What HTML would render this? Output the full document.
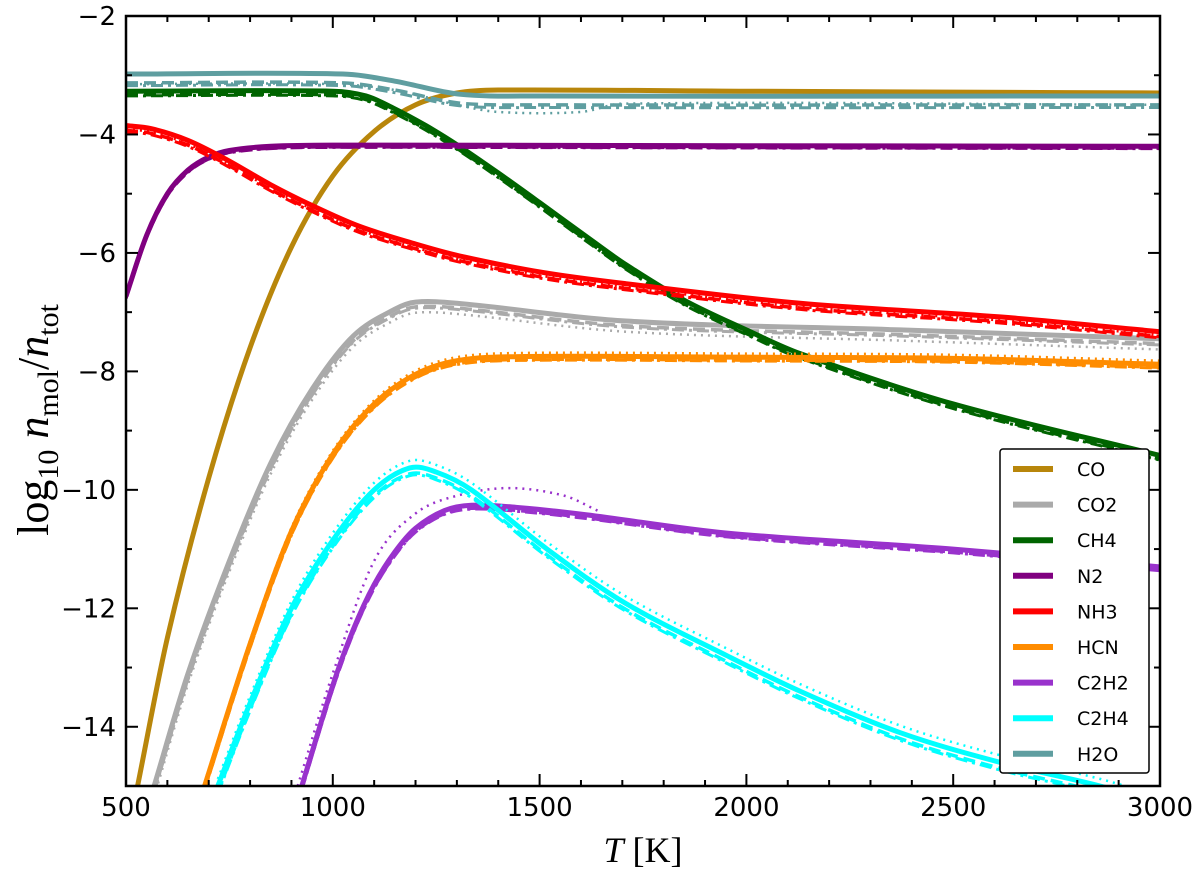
<!DOCTYPE html>
<html><head><meta charset="utf-8"><style>
body{margin:0;background:#fff}
svg{display:block}
.tick{font-family:"DejaVu Sans","Liberation Sans",sans-serif;font-size:26px}
</style></head><body>
<svg id="chart" width="1200" height="880" viewBox="0 0 1200 880" xmlns="http://www.w3.org/2000/svg">
<defs><clipPath id="clip"><rect x="126" y="16" width="1034" height="770"/></clipPath></defs>
<g id="series" clip-path="url(#clip)"></g>
<rect x="126" y="16" width="1034" height="770" fill="none" stroke="#000" stroke-width="2.5"/>
<g id="ticks"></g>
<text x="643" y="862" text-anchor="middle" font-family="Liberation Serif,serif" font-size="36"><tspan font-style="italic">T</tspan> [K]</text>
<text transform="translate(48,420) rotate(-90)" text-anchor="middle" font-family="Liberation Serif,serif" font-size="44">log<tspan font-size="30" dy="10">10</tspan><tspan dy="-10"> </tspan><tspan font-style="italic">n</tspan><tspan font-size="30" dy="10">mol</tspan><tspan dy="-10">/</tspan><tspan font-style="italic">n</tspan><tspan font-size="30" dy="10">tot</tspan></text>
<g id="legend"></g>
</svg>
<script>
const names=["CO","CO2","CH4","N2","NH3","HCN","C2H2","C2H4","H2O"];
const colors=["#b8860b","#aaaaaa","#006400","#800080","#ff0000","#ff8c00","#9932cc","#00ffff","#5f9ea0"];
const tCO=[528,600,700,800,900,1000,1100,1200,1300,1400,2000,3000];
const vCO=[-15,-12.5,-9.8,-7.6,-5.9,-4.7,-3.95,-3.5,-3.3,-3.25,-3.27,-3.3];
const tCO2=[568,650,750,850,950,1050,1150,1200,1300,1709,2372,3000];
const vCO2=[-15,-13.1,-11.2,-9.55,-8.3,-7.4,-6.95,-6.83,-6.85,-7.15,-7.3,-7.45];
const tCH4=[500,1000,1080,1145,1225,1306,1400,1500,1628,1709,1850,2000,2130,2500,3000];
const vCH4=[-3.27,-3.27,-3.35,-3.55,-3.85,-4.2,-4.65,-5.15,-5.8,-6.2,-6.8,-7.3,-7.7,-8.55,-9.42];
const tN2=[500,550,600,650,700,750,850,1000,2000,3000];
const vN2=[-6.73,-5.7,-5.0,-4.6,-4.38,-4.27,-4.2,-4.18,-4.19,-4.2];
const tNH3=[500,560,650,742,850,950,1064,1200,1306,1508,1709,2130,2613,3000];
const vNH3=[-3.85,-3.9,-4.1,-4.42,-4.85,-5.2,-5.55,-5.85,-6.05,-6.33,-6.52,-6.85,-7.08,-7.33];
const tHCN=[690,800,900,1000,1100,1200,1300,1450,2000,2500,3000];
const vHCN=[-15,-12.6,-10.7,-9.4,-8.55,-8.05,-7.82,-7.75,-7.76,-7.78,-7.88];
const tC2H2=[925,1000,1050,1100,1150,1200,1270,1335,1450,1612,1953,2500,3000];
const vC2H2=[-15,-13.3,-12.35,-11.6,-11.05,-10.65,-10.35,-10.26,-10.3,-10.42,-10.73,-11.0,-11.3];
const tC2H2dot=[915,1000,1100,1200,1300,1426,1560,1640];
const vC2H2dot=[-15,-13.1,-11.2,-10.4,-10.1,-9.97,-10.1,-10.35];
const tC2H4=[722,800,900,1000,1100,1186,1250,1335,1518,1704,1953,2130,2372,2613,2855,3000];
const vC2H4=[-15,-13.6,-12.0,-10.85,-10.0,-9.63,-9.7,-10.0,-11.0,-11.9,-12.8,-13.4,-14.1,-14.6,-15,-15.3];
const tH2O=[500,1024,1150,1306,1500,3000];
const vH2O=[-2.98,-2.98,-3.1,-3.32,-3.35,-3.35];
const tH2Odot=[500,1000,1150,1300,1400,1600,1700,3000];
const vH2Odot=[-3.15,-3.15,-3.25,-3.5,-3.62,-3.62,-3.48,-3.5];
const dashOff=[0,-0.08,-0.06,-0.03,-0.08,-0.05,-0.05,-0.1,-0.15];
const dotOff=[0,-0.18,0,0,-0.06,0.06,0,0.12,0];
const xTicks=[500,1000,1500,2000,2500,3000];
const yTicks=[-2,-4,-6,-8,-10,-12,-14];
const TS=[tCO,tCO2,tCH4,tN2,tNH3,tHCN,tC2H2,tC2H4,tH2O];
const VS=[vCO,vCO2,vCH4,vN2,vNH3,vHCN,vC2H2,vC2H4,vH2O];
const X=t=>126+(t-500)*1034/2500;
const Y=v=>16+(-2-v)*770/13;
const NS="http://www.w3.org/2000/svg";
function mk(tag,attrs,parent){const e=document.createElementNS(NS,tag);for(const k in attrs)e.setAttribute(k,attrs[k]);parent.appendChild(e);return e;}
function pathD(ts,vs,off){
  const xs=ts.map(X), ys=vs.map(v=>Y(v+off)), n=xs.length, m=new Array(n);
  for(let i=0;i<n;i++){
    const a=Math.max(0,i-1), b=Math.min(n-1,i+1);
    m[i]=(ys[b]-ys[a])/(xs[b]-xs[a]);
  }
  let s="M"+xs[0]+","+ys[0];
  for(let i=0;i<n-1;i++){const h=(xs[i+1]-xs[i])/3;
    s+=" C"+(xs[i]+h)+","+(ys[i]+m[i]*h)+" "+(xs[i+1]-h)+","+(ys[i+1]-m[i+1]*h)+" "+xs[i+1]+","+ys[i+1];}
  return s;
}
const g=document.getElementById("series");
for(let s=0;s<names.length;s++){
  let dt=TS[s],dv=VS[s],doff=dotOff[s];
  if(names[s]==="C2H2"){dt=tC2H2dot;dv=vC2H2dot;doff=0;}
  if(names[s]==="H2O"){dt=tH2Odot;dv=vH2Odot;doff=0;}
  const dd=mk("path",{d:pathD(dt,dv,doff),fill:"none",stroke:colors[s],"stroke-width":2.5,"stroke-dasharray":"2 5"},g);
  
  
  const da=mk("path",{d:pathD(TS[s],VS[s],dashOff[s]),fill:"none",stroke:colors[s],"stroke-width":3.5,"stroke-dasharray":"12 6"},g);
  
  
  const dc=mk("path",{d:pathD(TS[s],VS[s],dashOff[s]*1.3),fill:"none",stroke:colors[s],"stroke-width":3,"stroke-dasharray":"12 5 3 5"},g);
  
  
  const so=mk("path",{d:pathD(TS[s],VS[s],0),fill:"none",stroke:colors[s],"stroke-width":5},g);
  
  
}
const tk=document.getElementById("ticks");
for(let t=500;t<=3000;t+=100){
  const L=(t%500==0)?12:6;
  mk("line",{x1:X(t),x2:X(t),y1:786,y2:786-L,stroke:"#000","stroke-width":2},tk);
  mk("line",{x1:X(t),x2:X(t),y1:16,y2:16+L,stroke:"#000","stroke-width":2},tk);
}
xTicks.forEach(t=>{const e=mk("text",{x:X(t),y:816,"text-anchor":"middle",class:"tick"},tk);e.textContent=t;

});
for(let v=-2;v>=-15;v--){
  const L=(v%2==0)?12:6;
  mk("line",{x1:126,x2:126+L,y1:Y(v),y2:Y(v),stroke:"#000","stroke-width":2},tk);
  mk("line",{x1:1160,x2:1160-L,y1:Y(v),y2:Y(v),stroke:"#000","stroke-width":2},tk);
}
yTicks.forEach(v=>{const e=mk("text",{x:116,y:Y(v)+9,"text-anchor":"end",class:"tick"},tk);e.textContent="\u2212"+(-v);

});
const lg=document.getElementById("legend");
mk("rect",{x:1000,y:449,width:149,height:324,rx:3,fill:"#fff",stroke:"#000","stroke-width":1.5},lg);
names.forEach((n,i)=>{
  const y=469+i*35.6;
  const en=mk("g",{},lg);
  
  
  mk("line",{x1:1013,x2:1053,y1:y,y2:y,stroke:colors[i],"stroke-width":6},en);
  const t=mk("text",{x:1077,y:y+7,"font-family":"DejaVu Sans,Liberation Sans,sans-serif","font-size":19},en);t.textContent=n;
});
</script>
</body></html>
